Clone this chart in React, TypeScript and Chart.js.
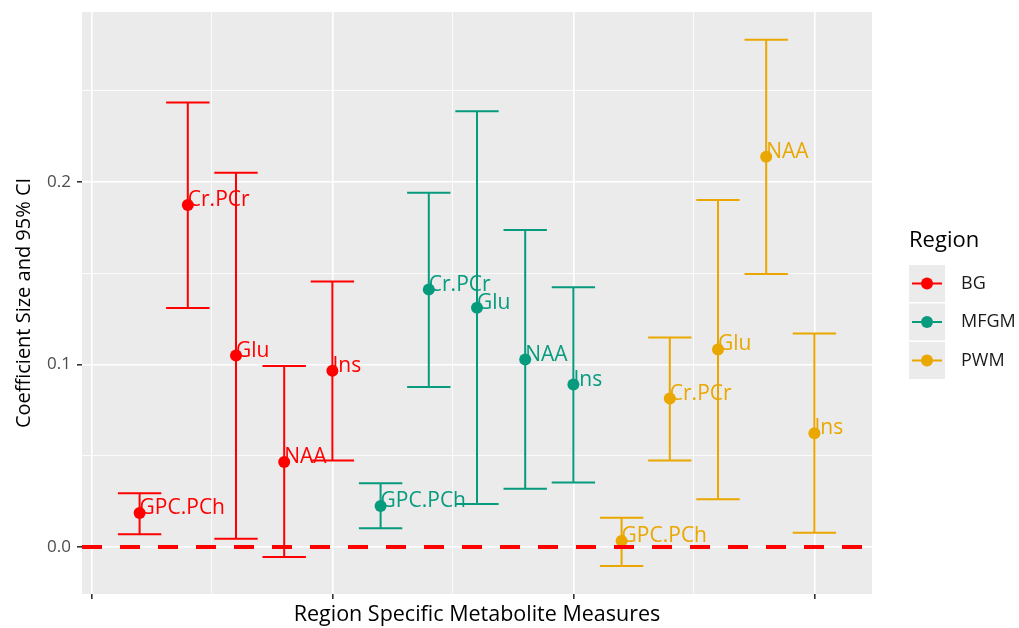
import React, { useEffect, useRef } from "react";
import { Chart, registerables } from "chart.js";

Chart.register(...registerables);

// Metabolites plotted within each region, in order
const METABOLITES = ["GPC.PCh", "Cr.PCr", "Glu", "NAA", "Ins"];
const REGIONS = ["BG", "MFGM", "PWM"];
const REGION_COLORS = ["#FF0000", "#079B7E", "#E9A700"];

// x positions along the continuous axis (one slot of 0.2 per metabolite)
const BG_X = [1.2, 1.4, 1.6, 1.8, 2.0];
const MFGM_X = [2.2, 2.4, 2.6, 2.8, 3.0];
const PWM_X = [3.2, 3.4, 3.6, 3.8, 4.0];

// Coefficient estimates
const BG_EST = [0.0186, 0.1873, 0.1049, 0.0466, 0.0966];
const MFGM_EST = [0.0225, 0.141, 0.1311, 0.1027, 0.089];
const PWM_EST = [0.0033, 0.0813, 0.1082, 0.2138, 0.0623];

// Lower 95% CI bounds
const BG_LO = [0.007, 0.1309, 0.0046, -0.0055, 0.0474];
const MFGM_LO = [0.0103, 0.0877, 0.0236, 0.0319, 0.0354];
const PWM_LO = [-0.0103, 0.0474, 0.0262, 0.1495, 0.0079];

// Upper 95% CI bounds
const BG_HI = [0.0295, 0.2435, 0.205, 0.0992, 0.1454];
const MFGM_HI = [0.035, 0.194, 0.2387, 0.1736, 0.1423];
const PWM_HI = [0.016, 0.1148, 0.19, 0.2778, 0.1169];

// Axis ticks: major ones are labelled, minor ones only carry a grid line
const Y_MAJOR = [0, 0.1, 0.2];
const Y_MINOR = [0.05, 0.15, 0.25];
const X_MAJOR = [1, 2, 3, 4];
const X_MINOR = [1.5, 2.5, 3.5];

const X_MIN = 0.961;
const X_MAX = 4.239;
const Y_MIN = -0.0257;
const Y_MAX = 0.293;
const CAP_HALF = 0.09;

const FONT = "'Open Sans', 'DejaVu Sans', sans-serif";

const REGION_X = [BG_X, MFGM_X, PWM_X];
const REGION_EST = [BG_EST, MFGM_EST, PWM_EST];
const REGION_LO = [BG_LO, MFGM_LO, PWM_LO];
const REGION_HI = [BG_HI, MFGM_HI, PWM_HI];

const isMajor = (v: number, majors: number[]) =>
  majors.some((m) => Math.abs(m - v) < 1e-9);

const panelPlugin = {
  id: "panelBackground",
  beforeDraw(chart: any) {
    const { ctx, chartArea } = chart;
    ctx.save();
    ctx.fillStyle = "#EBEBEB";
    ctx.fillRect(
      chartArea.left,
      chartArea.top,
      chartArea.right - chartArea.left,
      chartArea.bottom - chartArea.top
    );
    ctx.restore();
  },
};

const errorBarPlugin = {
  id: "errorBars",
  beforeDatasetsDraw(chart: any) {
    const { ctx } = chart;
    const xs = chart.scales.x;
    const ys = chart.scales.y;
    ctx.save();
    ctx.lineWidth = 2;
    ctx.lineCap = "butt";
    REGIONS.forEach((_, r) => {
      ctx.strokeStyle = REGION_COLORS[r];
      REGION_X[r].forEach((xv, i) => {
        const px = xs.getPixelForValue(xv);
        const pl = xs.getPixelForValue(xv - CAP_HALF);
        const pr = xs.getPixelForValue(xv + CAP_HALF);
        const top = ys.getPixelForValue(REGION_HI[r][i]);
        const bot = ys.getPixelForValue(REGION_LO[r][i]);
        ctx.beginPath();
        ctx.moveTo(px, top);
        ctx.lineTo(px, bot);
        ctx.moveTo(pl, top);
        ctx.lineTo(pr, top);
        ctx.moveTo(pl, bot);
        ctx.lineTo(pr, bot);
        ctx.stroke();
      });
    });
    ctx.restore();
  },
  afterDatasetsDraw(chart: any) {
    const { ctx, chartArea } = chart;
    const xs = chart.scales.x;
    const ys = chart.scales.y;
    ctx.save();
    // metabolite labels next to each estimate
    ctx.font = `21px ${FONT}`;
    ctx.textAlign = "left";
    ctx.textBaseline = "alphabetic";
    REGIONS.forEach((_, r) => {
      ctx.fillStyle = REGION_COLORS[r];
      REGION_X[r].forEach((xv, i) => {
        const px = xs.getPixelForValue(xv);
        const py = ys.getPixelForValue(REGION_EST[r][i]);
        ctx.fillText(METABOLITES[i], px, py + 1);
      });
    });
    // dashed reference line at zero
    const y0 = ys.getPixelForValue(0);
    ctx.strokeStyle = "#FF0000";
    ctx.lineWidth = 4;
    ctx.setLineDash([20, 18]);
    ctx.beginPath();
    ctx.moveTo(chartArea.left, y0);
    ctx.lineTo(chartArea.right, y0);
    ctx.stroke();
    ctx.setLineDash([]);

    // legend
    const lx = chartArea.right + 37;
    ctx.fillStyle = "#000000";
    ctx.font = `22px ${FONT}`;
    ctx.textBaseline = "middle";
    ctx.fillText("Region", lx, 241);
    const keyTop = 265;
    const keyH = 38.5;
    REGIONS.forEach((name, r) => {
      const ky = keyTop + r * keyH;
      ctx.fillStyle = "#EBEBEB";
      ctx.fillRect(lx, ky, 36, keyH - 1.5);
      const cy = ky + (keyH - 1.5) / 2;
      ctx.strokeStyle = REGION_COLORS[r];
      ctx.lineWidth = 2;
      ctx.beginPath();
      ctx.moveTo(lx + 3, cy);
      ctx.lineTo(lx + 33, cy);
      ctx.stroke();
      ctx.fillStyle = REGION_COLORS[r];
      ctx.beginPath();
      ctx.arc(lx + 18, cy, 6, 0, Math.PI * 2);
      ctx.fill();
      ctx.fillStyle = "#1A1A1A";
      ctx.font = `18px ${FONT}`;
      ctx.fillText(name, lx + 52, cy);
    });
    ctx.restore();
  },
};

export default function App() {
  const canvasRef = useRef<HTMLCanvasElement | null>(null);

  useEffect(() => {
    document.body.style.margin = "0";
    const canvas = canvasRef.current;
    if (!canvas) return;

    const datasets = REGIONS.map((name, r) => ({
      label: name,
      data: REGION_X[r].map((x, i) => ({ x, y: REGION_EST[r][i] })),
      backgroundColor: REGION_COLORS[r],
      borderColor: REGION_COLORS[r],
      pointRadius: 6,
      pointHoverRadius: 6,
      borderWidth: 0,
      showLine: false,
    }));

    const chart = new Chart(canvas, {
      type: "scatter",
      data: { datasets },
      plugins: [panelPlugin, errorBarPlugin],
      options: {
        animation: false,
        responsive: false,
        events: [],
        layout: { padding: { left: 0, right: 147, top: 12, bottom: 0 } },
        plugins: {
          legend: { display: false },
          tooltip: { enabled: false },
        },
        scales: {
          x: {
            type: "linear",
            min: X_MIN,
            max: X_MAX,
            border: { display: false },
            afterBuildTicks: (scale: any) => {
              scale.ticks = [...X_MAJOR, ...X_MINOR]
                .sort((a, b) => a - b)
                .map((v) => ({ value: v }));
            },
            afterFit: (scale: any) => {
              scale.height = 34;
            },
            ticks: {
              callback: () => "",
              padding: 0,
            },
            grid: {
              color: "#FFFFFF",
              lineWidth: (c: any) =>
                isMajor(c.tick?.value, X_MAJOR) ? 1.6 : 0.8,
              tickColor: (c: any) =>
                isMajor(c.tick?.value, X_MAJOR) ? "#333333" : "rgba(0,0,0,0)",
              tickLength: 5,
              tickWidth: 1.6,
            },
            title: {
              display: true,
              text: "Region Specific Metabolite Measures",
              color: "#000000",
              font: { family: FONT, size: 21.5 },
              padding: { top: 1, bottom: 0 },
            },
          },
          y: {
            type: "linear",
            min: Y_MIN,
            max: Y_MAX,
            border: { display: false },
            afterBuildTicks: (scale: any) => {
              scale.ticks = [...Y_MAJOR, ...Y_MINOR]
                .sort((a, b) => a - b)
                .map((v) => ({ value: v }));
            },
            afterFit: (scale: any) => {
              scale.width = 82;
              scale.paddingTop = 0;
              scale.paddingBottom = 0;
            },
            ticks: {
              color: "#4D4D4D",
              font: { family: FONT, size: 17, lineHeight: 1 },
              padding: 6,
              callback: (v: any) =>
                isMajor(Number(v), Y_MAJOR) ? Number(v).toFixed(1) : "",
            },
            grid: {
              color: "#FFFFFF",
              lineWidth: (c: any) =>
                isMajor(c.tick?.value, Y_MAJOR) ? 1.6 : 0.8,
              tickColor: (c: any) =>
                isMajor(c.tick?.value, Y_MAJOR) ? "#333333" : "rgba(0,0,0,0)",
              tickLength: 5,
              tickWidth: 1.6,
            },
            title: {
              display: true,
              text: "Coefficient Size and 95% CI",
              color: "#000000",
              font: { family: FONT, size: 20 },
              padding: { top: 12, bottom: 0 },
            },
          },
        },
      },
    } as any);

    return () => chart.destroy();
  }, []);

  return (
    <div style={{ position: "fixed", left: 0, top: 0, width: 1019, height: 628, background: "#FFFFFF" }}>
      <canvas ref={canvasRef} width={1019} height={628} />
    </div>
  );
}
